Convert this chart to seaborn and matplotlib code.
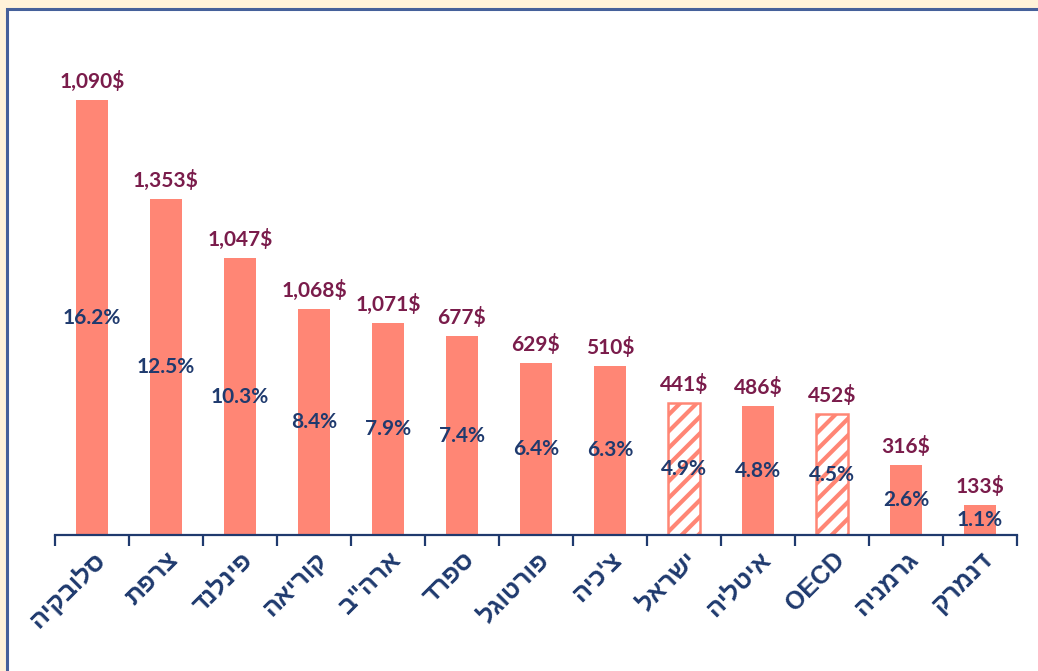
import matplotlib
matplotlib.use("Agg")
import matplotlib.pyplot as plt
from matplotlib.patches import Rectangle
import seaborn as sns
import pandas as pd
import numpy as np

# Hebrew names in logical order; reversed for left-to-right rendering below
countries = ["סלובקיה", "צרפת", "פינלנד", "קוריאה", "ארה\"ב", "ספרד", "פורטוגל",
             "צ'כיה", "ישראל", "איטליה", "OECD", "גרמניה", "דנמרק"]
share_pct = [16.2, 12.5, 10.3, 8.4, 7.9, 7.4, 6.4, 6.3, 4.9, 4.8, 4.5, 2.6, 1.1]
dollar_labels = ["1,090$", "1,353$", "1,047$", "1,068$", "1,071$", "677$", "629$",
                 "510$", "441$", "486$", "452$", "316$", "133$"]
highlighted = ["ישראל", "OECD"]


def visual(s):
    # matplotlib has no bidi support: reverse Hebrew runs, keep Latin as is
    if any("\u0590" <= c <= "\u05FF" for c in s):
        return s[::-1]
    return s


BAR = "#FF8675"
NAVY = "#1F3A6E"
MAROON = "#7A1C4B"

sns.set_theme(style="white")
plt.rcParams["font.family"] = ["Liberation Sans", "DejaVu Sans"]
plt.rcParams["hatch.linewidth"] = 3.0

fig = plt.figure(figsize=(10.38, 6.71), dpi=100, facecolor="#FFF2D9")
# white framed panel behind the axes
fig.patches.append(Rectangle((7 / 1038, -0.05), 1.1, (671 - 9) / 671 + 0.05,
                             transform=fig.transFigure, facecolor="white",
                             edgecolor="#45609A", linewidth=2.2, zorder=-10))

ax = fig.add_axes([55 / 1038, 136 / 671, (1017 - 55) / 1038, (535 - 12) / 671])
ax.set_facecolor("none")
ax.set_zorder(1)

df = pd.DataFrame({"country": countries, "pct": share_pct})
sns.barplot(data=df, x="country", y="pct", color=BAR, width=0.43,
            saturation=1, ax=ax, edgecolor=BAR, linewidth=0)

for patch, name in zip(ax.patches, countries):
    if name in highlighted:
        patch.set_facecolor("white")
        patch.set_hatch("//")
        patch.set_edgecolor(BAR)
        patch.set_linewidth(1.8)

num_font = ["Lato", "DejaVu Sans"]
for i, (v, d) in enumerate(zip(share_pct, dollar_labels)):
    ax.text(i, v + 0.3, d, ha="center", va="bottom", color=MAROON,
            fontsize=15, fontweight="bold", family=num_font)
    ax.text(i, v / 2, f"{v:.1f}%", ha="center", va="center", color=NAVY,
            fontsize=15, fontweight="bold", family=num_font)

ax.set_xlim(-0.5, len(countries) - 0.5)
ax.set_ylim(0, 523 / 26.85)
ax.set_xlabel("")
ax.set_ylabel("")
ax.set_yticks([])

ax.set_xticks(range(len(countries)))
ax.set_xticklabels([visual(c) for c in countries], rotation=45, ha="right",
                   rotation_mode="anchor", color=NAVY, fontsize=18,
                   fontweight="bold")
ax.tick_params(axis="x", which="major", length=0, pad=9)
ax.set_xticks(np.arange(-0.5, len(countries), 1.0), minor=True)
ax.tick_params(axis="x", which="minor", length=8, width=1.6, color=NAVY,
               direction="out", bottom=True)

for side in ["top", "right", "left"]:
    ax.spines[side].set_visible(False)
ax.spines["bottom"].set_color(NAVY)
ax.spines["bottom"].set_linewidth(1.6)

fig.savefig("out.png", dpi=100, facecolor=fig.get_facecolor())
